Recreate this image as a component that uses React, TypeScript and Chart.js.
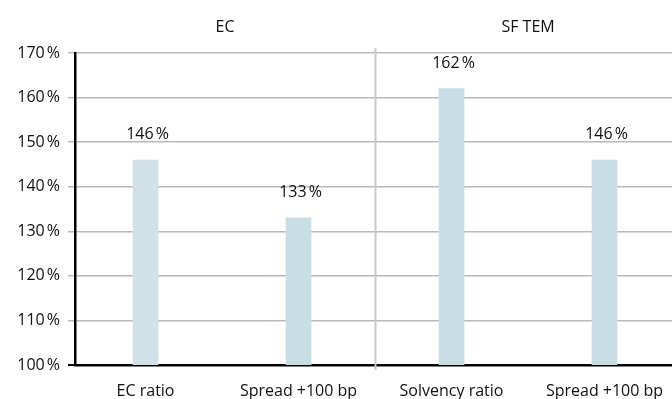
import React, { useEffect, useRef } from "react";
import { Chart, registerables } from "chart.js";

Chart.register(...registerables);

// Category labels along the x axis
const categories = ["EC ratio", "Spread +100 bp", "Solvency ratio", "Spread +100 bp"];
// Ratio values in percent
const values = [146, 133, 162, 146];
// Bar fills
const barColors = ["#d0e1e7", "#c7dee4", "#c7dee4", "#c7dee4"];
// Group headings and the category index range each covers
const groupTitles = ["EC", "SF TEM"];
const groupRanges: [number, number][] = [[-0.461, 1.5], [1.5, 3.5]];
// Y axis ticks
const yTicks = [100, 110, 120, 130, 140, 150, 160, 170];

const FONT = "'Open Sans', 'Noto Sans', sans-serif";
const TEXT = "#111";
const pct = (v: number) => `${v}\u202F%`;

const overlayPlugin = {
  id: "overlay",
  beforeDatasetsDraw(chart: any) {
    const { ctx, chartArea, scales } = chart;
    const x = scales.x;
    // Vertical separator between the two groups
    const sx = Math.round(x.getPixelForValue(1.5)) + 0.5;
    ctx.save();
    ctx.strokeStyle = "#c8c8c8";
    ctx.lineWidth = 2;
    ctx.beginPath();
    ctx.moveTo(sx, chartArea.top - 5);
    ctx.lineTo(sx, chartArea.bottom + 5);
    ctx.stroke();
    ctx.restore();
  },
  afterDatasetsDraw(chart: any) {
    const { ctx, scales } = chart;
    const x = scales.x;
    const y = scales.y;
    ctx.save();
    ctx.fillStyle = TEXT;
    ctx.font = `16px ${FONT}`;
    ctx.textAlign = "center";
    ctx.textBaseline = "alphabetic";
    values.forEach((v, i) => {
      ctx.fillText(pct(v), x.getPixelForValue(i) + 2, y.getPixelForValue(v) - 21);
    });
    ctx.textBaseline = "middle";
    groupTitles.forEach((t, i) => {
      const [a, b] = groupRanges[i];
      const cx = (x.getPixelForValue(a) + x.getPixelForValue(b)) / 2;
      ctx.fillText(t, cx, 27);
    });
    ctx.restore();
  },
};

export default function App() {
  const canvasRef = useRef<HTMLCanvasElement | null>(null);

  useEffect(() => {
    document.body.style.margin = "0";
    const canvas = canvasRef.current;
    if (!canvas) return;
    const chart = new Chart(canvas, {
      type: "bar",
      data: {
        datasets: [
          {
            data: values.map((v, i) => ({ x: i, y: v })),
            backgroundColor: barColors,
            barThickness: 25,
            borderWidth: 0,
          },
        ],
      },
      options: {
        animation: false,
        responsive: false,
        maintainAspectRatio: false,
        layout: { padding: { top: 53, left: 0, right: 0, bottom: 0 } },
        plugins: {
          legend: { display: false },
          tooltip: { enabled: false },
        },
        scales: {
          x: {
            type: "linear",
            offset: false,
            min: -0.461,
            max: 3.441,
            afterBuildTicks: (s: any) => {
              s.ticks = categories.map((_, i) => ({ value: i }));
            },
            afterFit: (s: any) => {
              s.height = 34;
              s.paddingLeft = 0;
              s.paddingRight = 0;
            },
            grid: { display: false, drawTicks: false },
            border: { display: true, color: "#000", width: 2.5 },
            ticks: {
              padding: 17,
              color: TEXT,
              font: { family: FONT, size: 16 },
              callback: (v: any) => categories[Number(v)] ?? "",
              maxRotation: 0,
              autoSkip: false,
            },
          },
          y: {
            min: 100,
            max: 170,
            afterBuildTicks: (s: any) => {
              s.ticks = yTicks.map((v) => ({ value: v }));
            },
            afterFit: (s: any) => {
              s.width = 75;
            },
            grid: {
              color: (c: any) => (c.tick && c.tick.value === 100 ? "#000" : "#b9b9b9"),
              lineWidth: (c: any) => (c.tick && c.tick.value === 100 ? 2 : 1.5),
              tickLength: 7,
            },
            border: { display: true, color: "#000", width: 2.5 },
            ticks: {
              padding: 8,
              color: TEXT,
              font: { family: FONT, size: 16 },
              callback: (v: any) => pct(Number(v)),
            },
          },
        },
      },
      plugins: [overlayPlugin],
    });
    return () => chart.destroy();
  }, []);

  return (
    <div style={{ position: "absolute", left: 0, top: 0, width: 672, height: 399, background: "#fff" }}>
      <canvas ref={canvasRef} width={672} height={399} />
    </div>
  );
}
